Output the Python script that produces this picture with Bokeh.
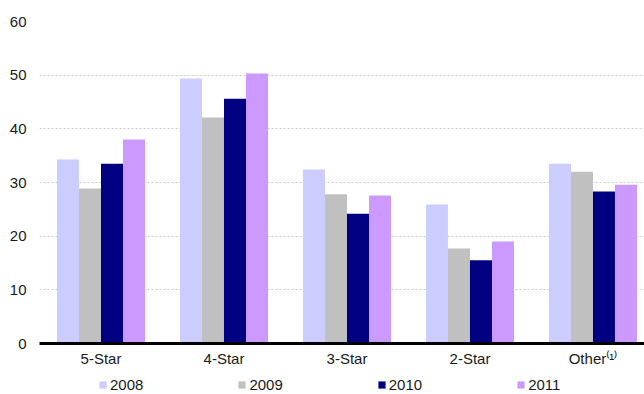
from bokeh.plotting import figure
from bokeh.models import ColumnDataSource, Range1d, FixedTicker, Legend
from bokeh.layouts import column
from bokeh.transform import dodge
from bokeh.embed import file_html
from bokeh.resources import INLINE

categories = ["5-Star", "4-Star", "3-Star", "2-Star", "Other⁽¹⁾"]
years = ["2008", "2009", "2010", "2011"]
v2008 = [34.3, 49.4, 32.4, 25.9, 33.5]
v2009 = [28.9, 42.1, 27.8, 17.7, 32.0]
v2010 = [33.5, 45.6, 24.2, 15.5, 28.3]
v2011 = [38.0, 50.3, 27.6, 19.0, 29.6]
colors = ["#CCCCFF", "#C0C0C0", "#000080", "#CC99FF"]
y_ticks = [0, 10, 20, 30, 40, 50, 60]

FONT = "Liberation Sans"
pos = [i + 0.5 for i in range(len(categories))]
src = ColumnDataSource(dict(x=pos, y2008=v2008, y2009=v2009, y2010=v2010, y2011=v2011))

p = figure(width=644, height=373, output_backend="svg", toolbar_location=None,
           x_range=Range1d(0, 4.919), y_range=Range1d(0, 60),
           min_border_left=39, min_border_top=21, min_border_right=0, min_border_bottom=30)
p.outline_line_color = None
p.background_fill_color = "white"

bw = 0.179
offs = [-1.5 * bw, -0.5 * bw, 0.5 * bw, 1.5 * bw]
for yr, c, o in zip(years, colors, offs):
    p.vbar(x=dodge("x", o), top="y" + yr, width=bw, source=src,
           fill_color=c, line_color=None)

# axes
p.xaxis.ticker = FixedTicker(ticks=pos)
p.xaxis.major_label_overrides = {pp: c for pp, c in zip(pos, categories)}
p.xaxis.axis_line_width = 3
p.xaxis.axis_line_color = "black"
p.xaxis.major_tick_line_color = None
p.xaxis.major_tick_out = 0
p.xaxis.major_tick_in = 0
p.xaxis.minor_tick_line_color = None
p.xaxis.major_label_standoff = 6
p.xaxis.major_label_text_font = FONT
p.xaxis.major_label_text_font_size = "15px"
p.xaxis.major_label_text_color = "#1a1a1a"

p.yaxis.ticker = FixedTicker(ticks=y_ticks)
p.yaxis.axis_line_color = None
p.yaxis.major_tick_line_color = None
p.yaxis.major_tick_out = 0
p.yaxis.major_tick_in = 0
p.yaxis.minor_tick_line_color = None
p.yaxis.major_label_standoff = 13
p.yaxis.major_label_text_font = FONT
p.yaxis.major_label_text_font_size = "15px"
p.yaxis.major_label_text_color = "#1a1a1a"

p.xgrid.grid_line_color = None
p.ygrid.grid_line_color = "#c8c8c8"
p.ygrid.grid_line_dash = "2 2"
p.ygrid.grid_line_width = 1

# legend strip
lg = figure(width=644, height=21, output_backend="svg", toolbar_location=None,
            x_range=Range1d(0, 1), y_range=Range1d(0, 1),
            min_border_left=0, min_border_top=0, min_border_right=0, min_border_bottom=0)
lg.axis.visible = False
lg.grid.visible = False
lg.outline_line_color = None
items = []
for yr, c in zip(years, colors):
    r = lg.vbar(x=[-10], top=[-10], width=0.1, fill_color=c, line_color=None)
    items.append((yr, [r]))
legend = Legend(items=items, orientation="horizontal", location=(59, 1),
                glyph_width=9, glyph_height=9, label_standoff=3, spacing=94,
                padding=0, margin=0, border_line_color=None, background_fill_alpha=0,
                label_height=16, label_text_font=FONT, label_text_font_size="15px",
                label_text_color="#1a1a1a")
lg.add_layout(legend, "center")

layout = column(p, lg, spacing=0)
open("out.html", "w").write(file_html(layout, INLINE))
